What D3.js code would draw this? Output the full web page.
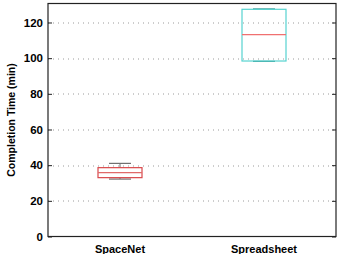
<!DOCTYPE html>
<html>
<head>
<meta charset="utf-8">
<script src="https://cdn.jsdelivr.net/npm/d3@7"></script>
<style>
  body { margin: 0; background: #fff; }
  text { font-family: "Liberation Sans", Arial, sans-serif; font-weight: bold; }
</style>
</head>
<body>
<div id="chart"></div>
<script>
const categories = ['SpaceNet', 'Spreadsheet'];
const whiskerLow = [32.2, 98.2];
const q1 = [33.0, 98.4];
const median = [35.8, 113.2];
const q3 = [38.6, 127.4];
const whiskerHigh = [41.0, 127.6];
const yTicks = [0, 20, 40, 60, 80, 100, 120];

const boxColors = ['#d9474a', '#56d3d0'];
const medianColors = ['#e06a6a', '#f07070'];
const whiskerColors = ['#707070', '#3a8a88'];

const w = 339, h = 254;
const margin = { top: 3.5, right: 3, bottom: 17.5, left: 48 };
const width = w - margin.left - margin.right;
const height = h - margin.top - margin.bottom;

const svg = d3.select('#chart')
  .append('svg')
  .attr('width', w)
  .attr('height', h)
  .append('g')
  .attr('transform', 'translate(' + margin.left + ',' + margin.top + ')');

const x = d3.scaleLinear().domain([0.5, 2.5]).range([0, width]);
const y = d3.scaleLinear().domain([0, 130.65]).range([height, 0]);

// grid lines
svg.selectAll('.grid')
  .data(yTicks.slice(1))
  .enter()
  .append('line')
  .attr('x1', 0)
  .attr('x2', width)
  .attr('y1', d => Math.round(y(d)) + 0.5)
  .attr('y2', d => Math.round(y(d)) + 0.5)
  .attr('stroke', '#9a9a9a')
  .attr('stroke-width', 1)
  .attr('stroke-dasharray', '1,4');

// y axis
const yAxis = svg.append('g')
  .call(d3.axisLeft(y).tickValues(yTicks).tickSize(-4).tickPadding(5));
yAxis.select('.domain').remove();
yAxis.selectAll('text').attr('font-size', 11.5).attr('fill', '#000');
yAxis.selectAll('line').attr('stroke', '#222');

// right side ticks
const yRight = svg.append('g')
  .attr('transform', 'translate(' + width + ',0)')
  .call(d3.axisRight(y).tickValues(yTicks).tickSize(-4).tickFormat(''));
yRight.select('.domain').remove();
yRight.selectAll('line').attr('stroke', '#222');

// x labels
svg.selectAll('.xlabel')
  .data(categories)
  .enter()
  .append('text')
  .attr('x', (d, i) => x(i + 1))
  .attr('y', height + 16.5)
  .attr('text-anchor', 'middle')
  .attr('font-size', 11)
  .text(d => d);

// y label
svg.append('text')
  .attr('transform', 'rotate(-90)')
  .attr('x', -height / 2)
  .attr('y', -33.5)
  .attr('text-anchor', 'middle')
  .attr('font-size', 10.5)
  .text('Completion Time (min)');

const boxW = 44;
const capW = 22;

categories.forEach((c, i) => {
  const cx = x(i + 1);
  // whiskers
  svg.append('line')
    .attr('x1', cx).attr('x2', cx)
    .attr('y1', y(whiskerHigh[i])).attr('y2', y(q3[i]))
    .attr('stroke', whiskerColors[i]).attr('stroke-width', 1);
  svg.append('line')
    .attr('x1', cx).attr('x2', cx)
    .attr('y1', y(whiskerLow[i])).attr('y2', y(q1[i]))
    .attr('stroke', whiskerColors[i]).attr('stroke-width', 1);
  svg.append('line')
    .attr('x1', cx - capW / 2).attr('x2', cx + capW / 2)
    .attr('y1', y(whiskerHigh[i])).attr('y2', y(whiskerHigh[i]))
    .attr('stroke', whiskerColors[i]).attr('stroke-width', 1.2);
  svg.append('line')
    .attr('x1', cx - capW / 2).attr('x2', cx + capW / 2)
    .attr('y1', y(whiskerLow[i])).attr('y2', y(whiskerLow[i]))
    .attr('stroke', whiskerColors[i]).attr('stroke-width', 1.2);
  // box
  svg.append('rect')
    .attr('x', cx - boxW / 2)
    .attr('y', y(q3[i]))
    .attr('width', boxW)
    .attr('height', y(q1[i]) - y(q3[i]))
    .attr('fill', 'none')
    .attr('stroke', boxColors[i])
    .attr('stroke-width', 1.2);
  // median
  svg.append('line')
    .attr('x1', cx - boxW / 2).attr('x2', cx + boxW / 2)
    .attr('y1', y(median[i])).attr('y2', y(median[i]))
    .attr('stroke', medianColors[i]).attr('stroke-width', 1.2);
});

// frame
svg.append('rect')
  .attr('x', 0)
  .attr('y', 0)
  .attr('width', width)
  .attr('height', height)
  .attr('fill', 'none')
  .attr('stroke', '#222')
  .attr('stroke-width', 1.2);
</script>
</body>
</html>
